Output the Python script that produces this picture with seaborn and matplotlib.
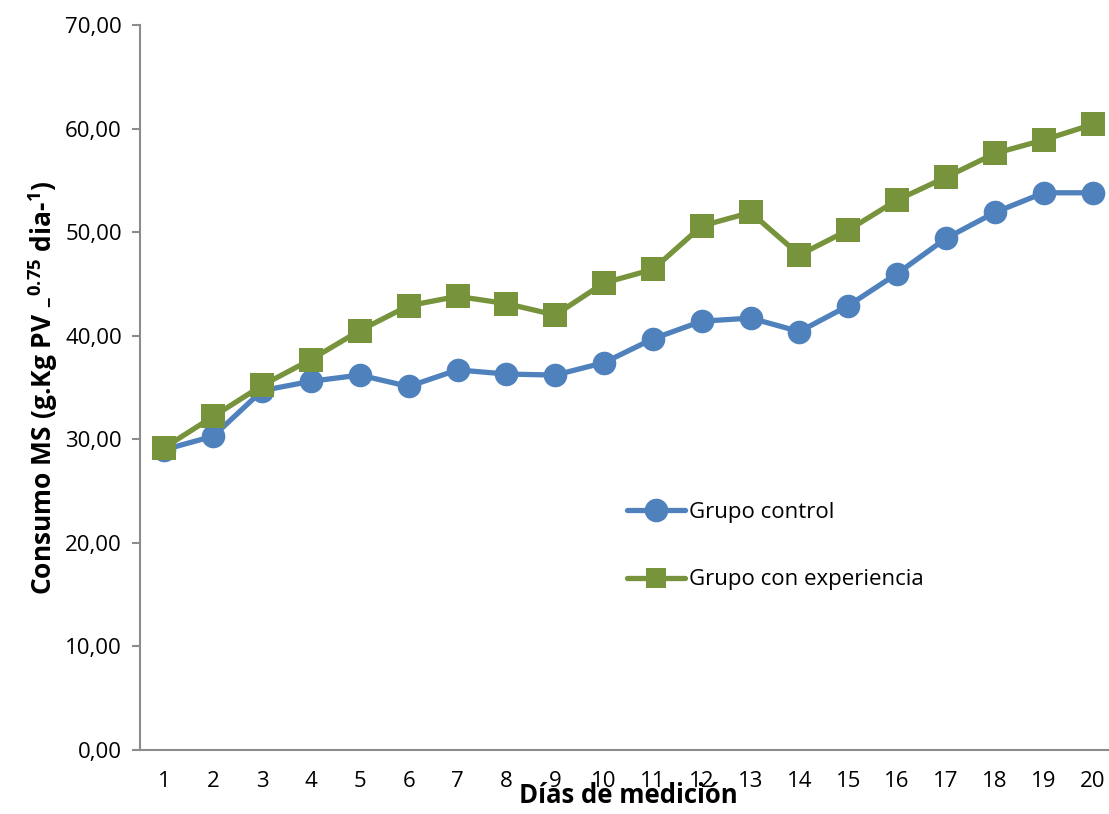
import matplotlib
matplotlib.use("Agg")
import matplotlib.pyplot as plt
import seaborn as sns
import pandas as pd
from matplotlib.lines import Line2D

dias = list(range(1, 21))
grupo_control = [29.0, 30.3, 34.7, 35.6, 36.2, 35.1, 36.7, 36.3, 36.2, 37.4,
                 39.7, 41.4, 41.7, 40.4, 42.9, 46.0, 49.4, 51.9, 53.8, 53.8]
grupo_experiencia = [29.2, 32.2, 35.2, 37.7, 40.5, 42.9, 43.8, 43.1, 42.0, 45.1,
                     46.4, 50.6, 51.9, 47.8, 50.2, 53.1, 55.3, 57.6, 58.9, 60.4]
series_names = ["Grupo control", "Grupo con experiencia"]
y_ticks = [0, 10, 20, 30, 40, 50, 60, 70]

df = pd.DataFrame({
    "dia": dias * 2,
    "valor": grupo_control + grupo_experiencia,
    "grupo": [series_names[0]] * 20 + [series_names[1]] * 20,
})

sns.set_theme(style="white")
plt.rcParams["font.family"] = ["Open Sans", "DejaVu Sans"]
plt.rcParams["mathtext.fontset"] = "custom"
plt.rcParams["mathtext.bf"] = "Open Sans:bold"
plt.rcParams["mathtext.rm"] = "Open Sans"
plt.rcParams["text.color"] = "black"
plt.rcParams["axes.labelcolor"] = "black"
plt.rcParams["xtick.color"] = "black"
plt.rcParams["ytick.color"] = "black"

blue, green = "#4F81BD", "#77933C"

fig = plt.figure(figsize=(11.09, 8.14), dpi=100)
ax = fig.add_axes([140 / 1109, 1 - 750 / 814, (1117 - 140) / 1109, (750 - 25) / 814])

sns.lineplot(data=df, x="dia", y="valor", hue="grupo", style="grupo",
             palette=[blue, green], markers=["o", "s"], dashes=False,
             linewidth=3.8, markersize=17, markeredgewidth=0, ax=ax, legend=False)

ax.set_xlim(0.5, 20.5)
ax.set_ylim(0, 70)
ax.set_xticks(dias)
ax.set_xticklabels([str(d) for d in dias], fontsize=16)
ax.set_yticks(y_ticks)
ax.set_yticklabels([f"{v:.2f}".replace(".", ",") for v in y_ticks], fontsize=16)
ax.tick_params(axis="x", length=0, pad=15, colors="black")
ax.tick_params(axis="y", length=6, width=1.5, color="#8C8C8C", labelcolor="black", pad=7, left=True)

for s in ["top", "right"]:
    ax.spines[s].set_visible(False)
for s in ["left", "bottom"]:
    ax.spines[s].set_color("#8C8C8C")
    ax.spines[s].set_linewidth(1.5)

ax.set_xlabel("Días de medición", fontsize=18.5, fontweight="bold", labelpad=-7)
ax.set_ylabel(r"Consumo MS (g.Kg PV $_{\mathbf{-}}$$^{\mathbf{0.75}}$ dia-$^{\mathbf{1}}$)",
              fontsize=19, fontweight="bold", labelpad=4)

handles = [
    Line2D([0], [0], color=blue, lw=3.8, marker="o", markersize=17, markeredgewidth=0),
    Line2D([0], [0], color=green, lw=3.8, marker="s", markersize=15, markeredgewidth=0),
]
ax.legend(handles, series_names, loc="upper left", bbox_to_anchor=(0.478, 0.37),
          frameon=False, fontsize=16, handlelength=2.6, handletextpad=0.2,
          labelspacing=2.1)

fig.savefig("out.png", dpi=100)
